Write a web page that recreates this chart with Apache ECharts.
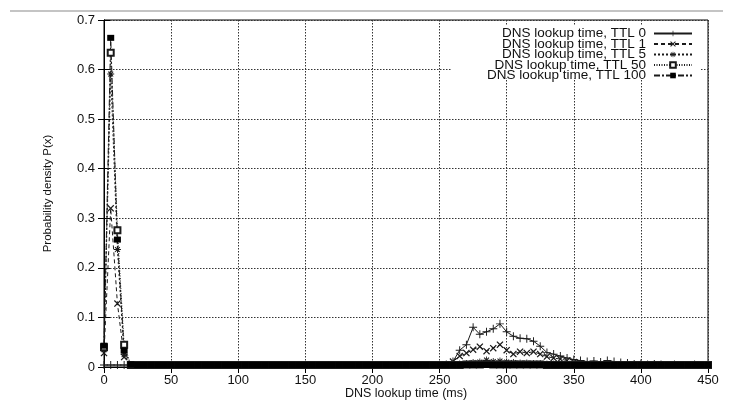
<!DOCTYPE html>
<html>
<head>
<meta charset="utf-8">
<script src="https://cdn.jsdelivr.net/npm/echarts@6/dist/echarts.min.js"></script>
<style>html,body{margin:0;padding:0;background:#fff;}#chart{width:729px;height:402px;}</style>
</head>
<body>
<div id="chart"></div>
<script>
// Bin positions (ms)
const xBins = [
  0,5,10,15,20,25,30,35,40,45,
  50,55,60,65,70,75,80,85,90,95,
  100,105,110,115,120,125,130,135,140,145,
  150,155,160,165,170,175,180,185,190,195,
  200,205,210,215,220,225,230,235,240,245,
  250,255,260,265,270,275,280,285,290,295,
  300,305,310,315,320,325,330,335,340,345,
  350,355,360,365,370,375,380,385,390,395,
  400,405,410,415,420,425,430,435,440,445,
  450
];
const ttl0 = [
  0.004,0.004,0.004,0.004,0.004,0.004,0.004,0.004,0.004,0.004,
  0.004,0.004,0.004,0.004,0.004,0.004,0.004,0.004,0.004,0.004,
  0.004,0.004,0.004,0.004,0.004,0.004,0.004,0.004,0.004,0.004,
  0.004,0.004,0.004,0.004,0.004,0.004,0.004,0.004,0.004,0.004,
  0.004,0.004,0.004,0.004,0.004,0.004,0.004,0.004,0.004,0.004,
  0.004,0.005,0.011,0.034,0.045,0.080,0.066,0.071,0.077,0.087,
  0.071,0.062,0.058,0.057,0.052,0.042,0.029,0.026,0.022,0.018,
  0.015,0.013,0.011,0.012,0.010,0.013,0.011,0.009,0.008,0.006,
  0.007,0.005,0.006,0.005,0.004,0.005,0.004,0.004,0.005,0.004,
  0.004
];
const ttl1 = [
  0.028,0.320,0.128,0.020,0.004,0.004,0.004,0.004,0.004,0.004,
  0.004,0.004,0.004,0.004,0.004,0.004,0.004,0.004,0.004,0.004,
  0.004,0.004,0.004,0.004,0.004,0.004,0.004,0.004,0.004,0.004,
  0.004,0.004,0.004,0.004,0.004,0.004,0.004,0.004,0.004,0.004,
  0.004,0.004,0.004,0.004,0.004,0.004,0.004,0.004,0.004,0.004,
  0.004,0.005,0.011,0.022,0.028,0.035,0.041,0.032,0.038,0.045,
  0.034,0.026,0.031,0.028,0.031,0.026,0.021,0.018,0.016,0.013,
  0.010,0.007,0.006,0.005,0.004,0.004,0.004,0.004,0.004,0.004,
  0.004,0.004,0.004,0.004,0.004,0.004,0.004,0.004,0.004,0.004,
  0.004
];
const ttl5 = [
  0.035,0.591,0.237,0.025,0.004,0.004,0.004,0.004,0.004,0.004,
  0.004,0.004,0.004,0.004,0.004,0.004,0.004,0.004,0.004,0.004,
  0.004,0.004,0.004,0.004,0.004,0.004,0.004,0.004,0.004,0.004,
  0.004,0.004,0.004,0.004,0.004,0.004,0.004,0.004,0.004,0.004,
  0.004,0.004,0.004,0.004,0.004,0.004,0.004,0.004,0.004,0.004,
  0.004,0.004,0.005,0.006,0.007,0.009,0.010,0.014,0.011,0.012,
  0.010,0.009,0.008,0.008,0.007,0.007,0.006,0.006,0.005,0.005,
  0.004,0.004,0.004,0.004,0.004,0.004,0.004,0.004,0.004,0.004,
  0.004,0.004,0.004,0.004,0.004,0.004,0.004,0.004,0.004,0.004,
  0.004
];
const ttl50 = [
  0.040,0.634,0.276,0.045,0.004,0.004,0.004,0.004,0.004,0.004,
  0.004,0.004,0.004,0.004,0.004,0.004,0.004,0.004,0.004,0.004,
  0.004,0.004,0.004,0.004,0.004,0.004,0.004,0.004,0.004,0.004,
  0.004,0.004,0.004,0.004,0.004,0.004,0.004,0.004,0.004,0.004,
  0.004,0.004,0.004,0.004,0.004,0.004,0.004,0.004,0.004,0.004,
  0.004,0.004,0.004,0.004,0.005,0.005,0.005,0.006,0.005,0.005,
  0.005,0.005,0.005,0.005,0.005,0.005,0.004,0.004,0.004,0.004,
  0.004,0.004,0.004,0.004,0.004,0.004,0.004,0.004,0.004,0.004,
  0.004,0.004,0.004,0.004,0.004,0.004,0.004,0.004,0.004,0.004,
  0.004
];
const ttl100 = [
  0.043,0.664,0.257,0.033,0.005,0.004,0.004,0.004,0.004,0.004,
  0.004,0.004,0.004,0.004,0.004,0.004,0.004,0.004,0.004,0.004,
  0.004,0.004,0.004,0.004,0.004,0.004,0.004,0.004,0.004,0.004,
  0.004,0.004,0.004,0.004,0.004,0.004,0.004,0.004,0.004,0.004,
  0.004,0.004,0.004,0.004,0.004,0.004,0.004,0.004,0.004,0.004,
  0.004,0.004,0.004,0.004,0.004,0.004,0.004,0.004,0.004,0.004,
  0.004,0.004,0.004,0.004,0.004,0.004,0.004,0.004,0.004,0.004,
  0.004,0.004,0.004,0.004,0.004,0.004,0.004,0.004,0.004,0.004,
  0.004,0.004,0.004,0.004,0.004,0.004,0.004,0.004,0.004,0.004,
  0.004
];
const seriesNames = [
  'DNS lookup time, TTL 0',
  'DNS lookup time, TTL 1',
  'DNS lookup time, TTL 5',
  'DNS lookup time, TTL 50',
  'DNS lookup time, TTL 100'
];
const xTicks = { min: 0, max: 450, interval: 50 };
const yTicks = { min: 0, max: 0.7, interval: 0.1 };
const xTitle = 'DNS lookup time (ms)';
const yTitle = 'Probability density P(x)';

const FONT = '"Liberation Sans", Arial, Helvetica, sans-serif';
const INK = '#111';
const LINE = '#1a1a1a';

const PLUS = 'path://M4.4,0H5.6V4.4H10V5.6H5.6V10H4.4V5.6H0V4.4H4.4Z';
const XPOLY = 'M8.04,0.97L9.03,1.96L5.99,5L9.03,8.04L8.04,9.03L5,5.99L1.96,9.03L0.97,8.04L4.01,5L0.97,1.96L1.96,0.97L5,4.01Z';
const CROSS = 'path://' + XPOLY;
const STAR = PLUS + XPOLY;

function pairs(vals) { return xBins.map((x, i) => [x, vals[i]]); }

const defs = [
  { data: ttl0,   symbol: PLUS,        size: 8,      dash: 'solid',      bw: 0 },
  { data: ttl1,   symbol: CROSS,       size: 7,      dash: [4, 3],       bw: 0 },
  { data: ttl5,   symbol: STAR,        size: 7,      dash: [2, 2],       bw: 0 },
  { data: ttl50,  symbol: 'emptyRect', size: 6,      dash: [1, 1.5],     bw: 1 },
  { data: ttl100, symbol: 'rect',      size: [7, 6], dash: [6, 2, 2, 2], bw: 0 }
];

const series = defs.map((d, i) => ({
  name: seriesNames[i],
  type: 'line',
  xAxisIndex: 0,
  yAxisIndex: 0,
  data: pairs(d.data),
  symbol: d.symbol,
  symbolSize: d.size,
  showSymbol: true,
  animation: false,
  clip: true,
  lineStyle: { color: LINE, width: 1, type: d.dash },
  itemStyle: { color: i === 4 ? '#000' : LINE, borderColor: LINE, borderWidth: d.bw },
  emphasis: { disabled: true }
}));

const legendCenters = [31.5, 42, 52.5, 63, 73.5];
const legends = seriesNames.map((n, i) => ({
  data: [n],
  right: 36,
  top: legendCenters[i] - 5,
  orient: 'vertical',
  align: 'right',
  padding: 0,
  itemWidth: 38,
  itemHeight: 7,
  selectedMode: false,
  textStyle: { fontFamily: FONT, fontSize: 13.5, color: INK, lineHeight: 10, padding: [0, 3, 0, 0] }
}));

const chart = echarts.init(document.getElementById('chart'), null, { renderer: 'canvas' });
chart.setOption({
  backgroundColor: '#fff',
  animation: false,
  grid: { left: 104, right: 21, top: 20, bottom: 35, show: true, borderColor: '#000', borderWidth: 1,
    containLabel: false, outerBoundsMode: 'none' },
  graphic: [
    { type: 'line', z: 1, shape: { x1: 10, y1: 11, x2: 723, y2: 11 }, style: { stroke: '#c4c4c4', lineWidth: 2 } },
    { type: 'rect', z: 1, shape: { x: 452, y: 25, width: 248, height: 53 }, style: { fill: '#fff' } }
  ],
  legend: legends,
  xAxis: [
    {
      type: 'value', position: 'bottom', min: xTicks.min, max: xTicks.max, interval: xTicks.interval,
      name: xTitle, nameLocation: 'middle', nameGap: 20, nameMoveOverlap: false,
      nameTextStyle: { fontFamily: FONT, fontSize: 12.5, color: INK },
      axisLine: { show: true, lineStyle: { color: '#000', width: 1 } },
      axisTick: { show: true, inside: true, length: 6, lineStyle: { color: '#000' } },
      axisLabel: { fontFamily: FONT, fontSize: 13, color: INK, margin: 7 },
      splitLine: { show: true, lineStyle: { color: '#333', width: 1, type: [1.5, 1.5] } }
    },
    {
      type: 'value', position: 'top', min: xTicks.min, max: xTicks.max, interval: xTicks.interval,
      axisLine: { show: true, lineStyle: { color: '#000', width: 1 } },
      axisTick: { show: true, inside: true, length: 6, lineStyle: { color: '#000' } },
      axisLabel: { show: false }, splitLine: { show: false }
    }
  ],
  yAxis: [
    {
      type: 'value', position: 'left', min: yTicks.min, max: yTicks.max, interval: yTicks.interval,
      name: yTitle, nameLocation: 'middle', nameGap: 50, nameMoveOverlap: false,
      nameTextStyle: { fontFamily: FONT, fontSize: 11.5, color: INK },
      axisLine: { show: true, lineStyle: { color: '#000', width: 1 } },
      axisTick: { show: true, inside: true, length: 6, lineStyle: { color: '#000' } },
      axisLabel: { fontFamily: FONT, fontSize: 13, color: INK, margin: 9,
        formatter: v => (v === 0 ? '0' : v.toFixed(1)) },
      splitLine: { show: true, lineStyle: { color: '#333', width: 1, type: [1.5, 1.5] } }
    },
    {
      type: 'value', position: 'right', min: yTicks.min, max: yTicks.max, interval: yTicks.interval,
      axisLine: { show: true, lineStyle: { color: '#000', width: 1 } },
      axisTick: { show: true, inside: true, length: 6, lineStyle: { color: '#000' } },
      axisLabel: { show: false }, splitLine: { show: false }
    }
  ],
  series: series
});
</script>
</body>
</html>
